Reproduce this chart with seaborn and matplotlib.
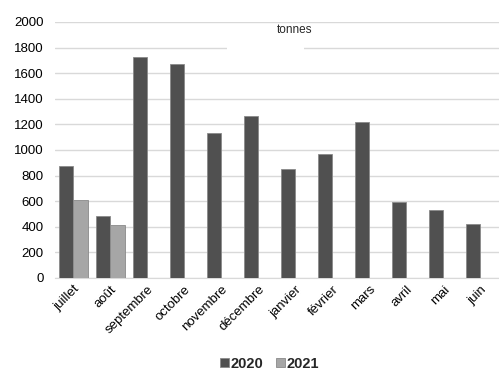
import pandas as pd
import matplotlib.pyplot as plt
import seaborn as sns
from matplotlib.patches import Rectangle

mois = ['juillet', 'août', 'septembre', 'octobre', 'novembre', 'décembre',
        'janvier', 'février', 'mars', 'avril', 'mai', 'juin']
v2020 = [875, 480, 1724, 1669, 1133, 1263, 849, 966, 1219, 591, 534, 424]
v2021 = [609, 412, None, None, None, None, None, None, None, None, None, None]

df = pd.DataFrame({'mois': mois * 2,
                   'annee': ['2020'] * 12 + ['2021'] * 12,
                   'tonnes': v2020 + v2021})

sns.set_style('white')
plt.rcParams['font.family'] = ['Liberation Sans', 'DejaVu Sans']

fig = plt.figure(figsize=(4.99, 3.72), dpi=100)
ax = fig.add_axes([0.11, 0.253, 0.89, 0.688])

sns.barplot(data=df, x='mois', y='tonnes', hue='annee', ax=ax,
            palette={'2020': '#505050', '2021': '#a6a6a6'},
            width=0.8, edgecolor='#8a8a8a', linewidth=0.6, zorder=3)

ax.set_ylim(0, 2000)
ax.set_yticks(range(0, 2001, 200))
ax.yaxis.grid(True, color='#d9d9d9', linewidth=1, zorder=0)
ax.set_axisbelow(True)
for s in ['top', 'right', 'left']:
    ax.spines[s].set_visible(False)
ax.spines['bottom'].set_color('#d9d9d9')
ax.tick_params(axis='both', length=0, labelsize=9.5, colors='black')
ax.tick_params(axis='y', pad=8)
ax.tick_params(axis='x', pad=4)
plt.setp(ax.get_xticklabels(), rotation=45, ha='right', rotation_mode='anchor')
ax.set_xlabel('')
ax.set_ylabel('')

# boite blanche du titre "tonnes"
fig.patches.append(Rectangle((227 / 499, 1 - 50 / 372), 77 / 499, 26 / 372,
                             transform=fig.transFigure, facecolor='white',
                             edgecolor='none', zorder=5))
fig.text(295 / 499, 1 - 30 / 372, 'tonnes', ha='center', va='center',
         fontsize=8.5, zorder=6)

handles, labels = ax.get_legend_handles_labels()
ax.legend_.remove()
fig.legend(handles, labels, loc='center', bbox_to_anchor=(0.54, 1 - 364 / 372),
           ncol=2, frameon=False, prop={'weight': 'bold', 'size': 10.5},
           handlelength=0.6, handleheight=0.6, handletextpad=0.1,
           columnspacing=0.9, borderpad=0)

fig.savefig('out.png', dpi=100)
